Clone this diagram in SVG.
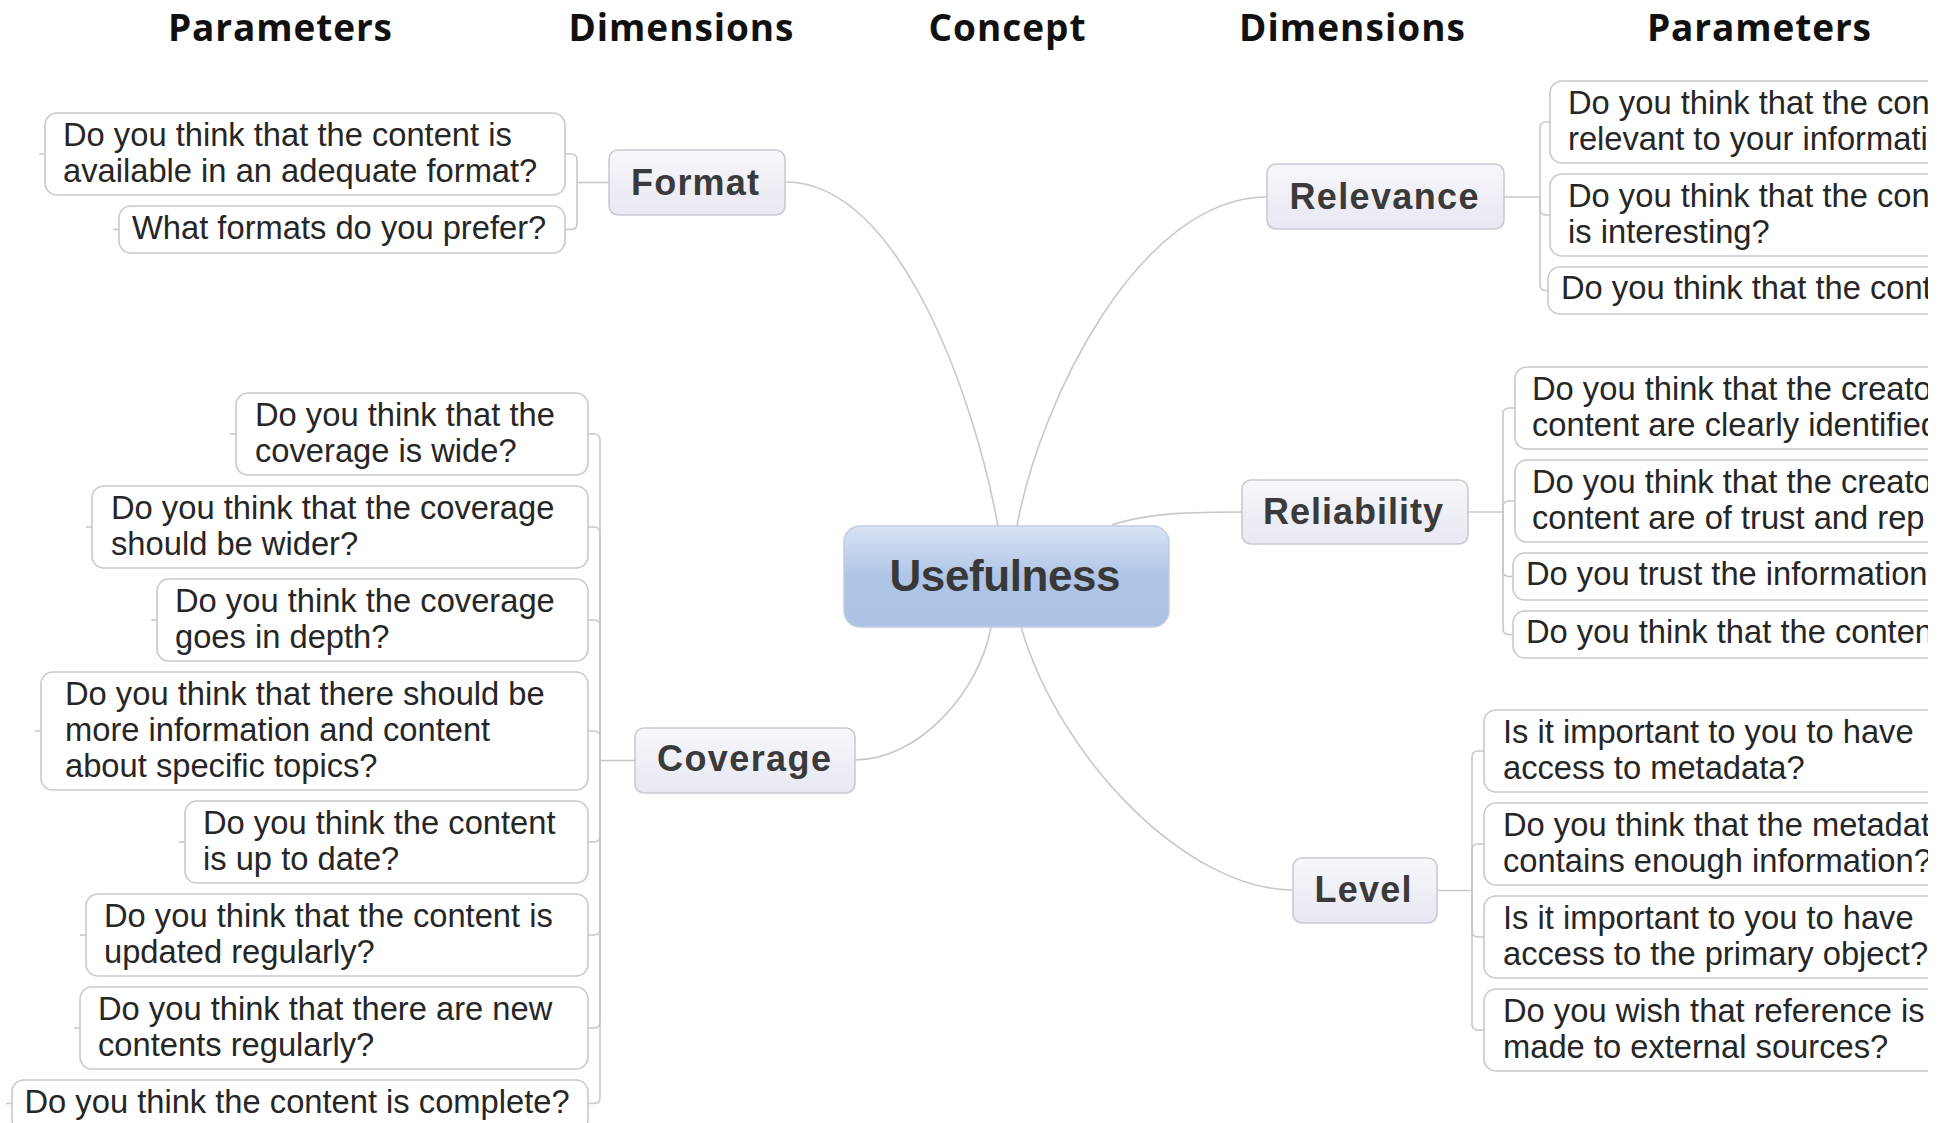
<svg xmlns="http://www.w3.org/2000/svg" width="1948" height="1123" viewBox="0 0 1948 1123">
<defs>
<style>
.hdr{font-family:"Open Sans","Lato",sans-serif;font-weight:700;font-size:37px;fill:#111;text-anchor:middle}
.leaf rect{fill:#fff;stroke:#c9c9c9;stroke-width:1.6}
.leaf text{font-family:"Liberation Sans",Arial,sans-serif;font-size:32.7px;fill:#262626}
.dim rect{fill:url(#gDim);stroke:#c9cad4;stroke-width:1.6}
.dim text{font-family:"Liberation Sans",Arial,sans-serif;font-weight:bold;font-size:36px;fill:#3a3a3a;text-anchor:middle}
.conn path{fill:none;stroke:#c8c8c8;stroke-width:1.6}
</style>
<linearGradient id="gDim" x1="0" y1="0" x2="0" y2="1">
<stop offset="0" stop-color="#f7f7fb"/>
<stop offset="1" stop-color="#e7e8f1"/>
</linearGradient>
<linearGradient id="gMain" x1="0" y1="0" x2="0" y2="1">
<stop offset="0" stop-color="#d8e3f4"/>
<stop offset="0.5" stop-color="#afc5e6"/>
<stop offset="1" stop-color="#abc2e5"/>
</linearGradient>
<clipPath id="clipR"><rect x="0" y="0" width="1928" height="1123"/></clipPath>
</defs>
<rect x="0" y="0" width="1948" height="1123" fill="#fff"/>

<g id="headers">
<text class="hdr" x="280" y="41" textLength="224">Parameters</text>
<text class="hdr" x="681" y="41" textLength="225">Dimensions</text>
<text class="hdr" x="1007" y="41" textLength="157">Concept</text>
<text class="hdr" x="1352" y="41" textLength="226">Dimensions</text>
<text class="hdr" x="1759" y="41" textLength="224">Parameters</text>
</g>

<g id="connectors" class="conn">
<path d="M786 182 C900 182 975 400 998 526"/>
<path d="M1017 526 C1040 400 1140 197 1267 197"/>
<path d="M1112 525 C1150 512 1200 512 1242 512"/>
<path d="M991 627 C980 690 920 760 855 760"/>
<path d="M1021 627 C1060 760 1188 890 1293 890"/>
<!-- Format bracket -->
<path d="M609 182.5 H577"/>
<path d="M577 182.5 V160 Q577 154 571 154 H565"/>
<path d="M577 182.5 V223.5 Q577 229.5 571 229.5 H565"/>
<!-- Coverage bracket -->
<path d="M635 760.5 H600"/>
<path d="M600 760.5 V440 Q600 434 594 434 H588"/>
<path d="M600 760.5 V533 Q600 527 594 527 H588"/>
<path d="M600 760.5 V626 Q600 620 594 620 H588"/>
<path d="M600 760.5 V737 Q600 731 594 731 H588"/>
<path d="M600 760.5 V836 Q600 842 594 842 H588"/>
<path d="M600 760.5 V929 Q600 935 594 935 H588"/>
<path d="M600 760.5 V1022 Q600 1028 594 1028 H588"/>
<path d="M600 760.5 V1097.5 Q600 1103.5 594 1103.5 H588"/>
<!-- Relevance bracket -->
<path d="M1504 197 H1540"/>
<path d="M1540 197 V128 Q1540 122 1546 122 H1550"/>
<path d="M1540 197 V209 Q1540 215 1546 215 H1550"/>
<path d="M1540 197 V284.5 Q1540 290.5 1546 290.5 H1548"/>
<!-- Reliability bracket -->
<path d="M1468 512 H1503"/>
<path d="M1503 512 V414 Q1503 408 1509 408 H1515"/>
<path d="M1503 512 V507 Q1503 501 1509 501 H1515"/>
<path d="M1503 512 V570.5 Q1503 576.5 1509 576.5 H1513"/>
<path d="M1503 512 V628.5 Q1503 634.5 1509 634.5 H1513"/>
<!-- Level bracket -->
<path d="M1437 890.5 H1472"/>
<path d="M1472 890.5 V757 Q1472 751 1478 751 H1484"/>
<path d="M1472 890.5 V850 Q1472 844 1478 844 H1484"/>
<path d="M1472 890.5 V931 Q1472 937 1478 937 H1484"/>
<path d="M1472 890.5 V1024 Q1472 1030 1478 1030 H1484"/>
<!-- left stubs -->
<path d="M39 154 H45"/>
<path d="M113 229.5 H119"/>
<path d="M230 434 H236"/>
<path d="M86 527 H92"/>
<path d="M151 620 H157"/>
<path d="M35 731 H41"/>
<path d="M179 842 H185"/>
<path d="M80 935 H86"/>
<path d="M74 1028 H80"/>
<path d="M6 1103.5 H12"/>
</g>

<g id="usefulness">
<rect x="844" y="526" width="325" height="101" rx="16" fill="url(#gMain)" stroke="#c0cde1" stroke-width="1.5"/>
<text x="1005" y="591" text-anchor="middle" font-family="Liberation Sans, Arial, sans-serif" font-weight="bold" font-size="44" fill="#383838" textLength="231">Usefulness</text>
</g>

<g id="format" class="dim">
<rect x="609" y="150" width="176" height="65" rx="9"/>
<text x="695" y="195" textLength="128">Format</text>
</g>
<g id="relevance" class="dim">
<rect x="1267" y="164" width="237" height="65" rx="9"/>
<text x="1384" y="209" textLength="189">Relevance</text>
</g>
<g id="reliability" class="dim">
<rect x="1242" y="480" width="226" height="64" rx="9"/>
<text x="1353" y="524" textLength="180">Reliability</text>
</g>
<g id="coverage" class="dim">
<rect x="635" y="728" width="220" height="65" rx="9"/>
<text x="744" y="771" textLength="174">Coverage</text>
</g>
<g id="level" class="dim">
<rect x="1293" y="858" width="144" height="65" rx="9"/>
<text x="1363" y="902" textLength="97">Level</text>
</g>

<g id="format-leaf-1" class="leaf">
<rect x="45" y="113" width="520" height="82" rx="12"/>
<text x="63" y="146"><tspan x="63">Do you think that the content is</tspan><tspan x="63" dy="36">available in an adequate format?</tspan></text>
</g>
<g id="format-leaf-2" class="leaf">
<rect x="119" y="206" width="446" height="47" rx="12"/>
<text x="132" y="239">What formats do you prefer?</text>
</g>

<g id="coverage-leaf-1" class="leaf">
<rect x="236" y="393" width="352" height="82" rx="12"/>
<text x="255" y="426"><tspan x="255">Do you think that the</tspan><tspan x="255" dy="36">coverage is wide?</tspan></text>
</g>
<g id="coverage-leaf-2" class="leaf">
<rect x="92" y="486" width="496" height="82" rx="12"/>
<text x="111" y="519"><tspan x="111">Do you think that the coverage</tspan><tspan x="111" dy="36">should be wider?</tspan></text>
</g>
<g id="coverage-leaf-3" class="leaf">
<rect x="157" y="579" width="431" height="82" rx="12"/>
<text x="175" y="612"><tspan x="175">Do you think the coverage</tspan><tspan x="175" dy="36">goes in depth?</tspan></text>
</g>
<g id="coverage-leaf-4" class="leaf">
<rect x="41" y="672" width="547" height="118" rx="12"/>
<text x="65" y="705"><tspan x="65">Do you think that there should be</tspan><tspan x="65" dy="36">more information and content</tspan><tspan x="65" dy="36">about specific topics?</tspan></text>
</g>
<g id="coverage-leaf-5" class="leaf">
<rect x="185" y="801" width="403" height="82" rx="12"/>
<text x="203" y="834"><tspan x="203">Do you think the content</tspan><tspan x="203" dy="36">is up to date?</tspan></text>
</g>
<g id="coverage-leaf-6" class="leaf">
<rect x="86" y="894" width="502" height="82" rx="12"/>
<text x="104" y="927"><tspan x="104">Do you think that the content is</tspan><tspan x="104" dy="36">updated regularly?</tspan></text>
</g>
<g id="coverage-leaf-7" class="leaf">
<rect x="80" y="987" width="508" height="82" rx="12"/>
<text x="98" y="1020"><tspan x="98">Do you think that there are new</tspan><tspan x="98" dy="36">contents regularly?</tspan></text>
</g>
<g id="coverage-leaf-8" class="leaf">
<rect x="12" y="1080" width="576" height="52" rx="12"/>
<text x="24.5" y="1113">Do you think the content is complete?</text>
</g>

<g clip-path="url(#clipR)">
<g id="relevance-leaf-1" class="leaf">
<rect x="1550" y="81" width="420" height="82" rx="12"/>
<text x="1568" y="114"><tspan x="1568">Do you think that the con</tspan><tspan x="1568" dy="36">relevant to your informati</tspan></text>
</g>
<g id="relevance-leaf-2" class="leaf">
<rect x="1550" y="174" width="420" height="82" rx="12"/>
<text x="1568" y="207"><tspan x="1568">Do you think that the con</tspan><tspan x="1568" dy="36">is interesting?</tspan></text>
</g>
<g id="relevance-leaf-3" class="leaf">
<rect x="1548" y="267" width="420" height="47" rx="12"/>
<text x="1561" y="299">Do you think that the cont</text>
</g>

<g id="reliability-leaf-1" class="leaf">
<rect x="1515" y="367" width="450" height="82" rx="12"/>
<text x="1532" y="400"><tspan x="1532">Do you think that the creato</tspan><tspan x="1532" dy="36">content are clearly identified</tspan></text>
</g>
<g id="reliability-leaf-2" class="leaf">
<rect x="1515" y="460" width="450" height="82" rx="12"/>
<text x="1532" y="493"><tspan x="1532">Do you think that the creato</tspan><tspan x="1532" dy="36">content are of trust and rep</tspan></text>
</g>
<g id="reliability-leaf-3" class="leaf">
<rect x="1513" y="553" width="450" height="47" rx="12"/>
<text x="1526" y="585">Do you trust the information</text>
</g>
<g id="reliability-leaf-4" class="leaf">
<rect x="1513" y="611" width="450" height="47" rx="12"/>
<text x="1526" y="643">Do you think that the conten</text>
</g>

<g id="level-leaf-1" class="leaf">
<rect x="1484" y="710" width="480" height="82" rx="12"/>
<text x="1503" y="743"><tspan x="1503">Is it important to you to have</tspan><tspan x="1503" dy="36">access to metadata?</tspan></text>
</g>
<g id="level-leaf-2" class="leaf">
<rect x="1484" y="803" width="480" height="82" rx="12"/>
<text x="1503" y="836"><tspan x="1503">Do you think that the metadat</tspan><tspan x="1503" dy="36">contains enough information?</tspan></text>
</g>
<g id="level-leaf-3" class="leaf">
<rect x="1484" y="896" width="480" height="82" rx="12"/>
<text x="1503" y="929"><tspan x="1503">Is it important to you to have</tspan><tspan x="1503" dy="36">access to the primary object?</tspan></text>
</g>
<g id="level-leaf-4" class="leaf">
<rect x="1484" y="989" width="480" height="82" rx="12"/>
<text x="1503" y="1022"><tspan x="1503">Do you wish that reference is</tspan><tspan x="1503" dy="36">made to external sources?</tspan></text>
</g>
</g>
</svg>
